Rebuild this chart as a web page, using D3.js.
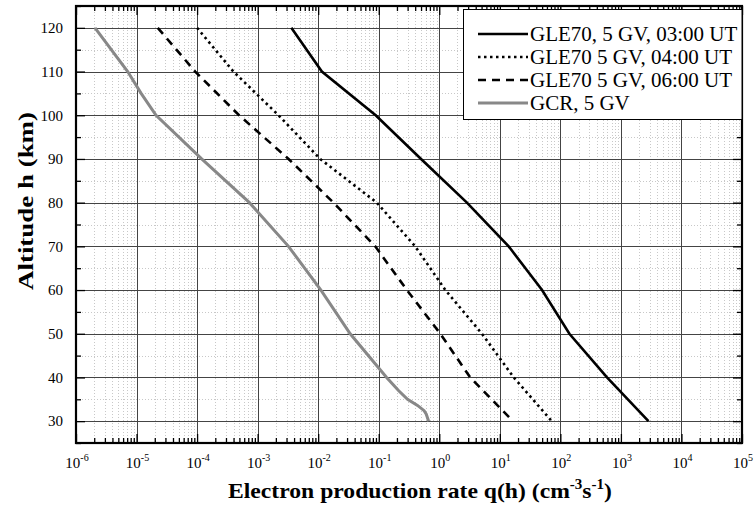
<!DOCTYPE html>
<html>
<head>
<meta charset="utf-8">
<script src="https://cdn.jsdelivr.net/npm/d3@7"></script>
<style>
  body { margin: 0; background: #fff; }
  svg { display: block; }
  text { font-family: "Liberation Serif", "Times New Roman", serif; fill: #000; }
</style>
</head>
<body>
<div id="chart"></div>
<script>
// ==================== donnees ====================//
const altitudes = [120, 110, 100, 90, 80, 70, 60, 50, 40, 30];
const gle0300 = [3.6e-3, 1.15e-2, 8.9e-2, 0.50, 2.86, 14.0, 49.8, 141, 589, 2850];
const gle0400 = [1.0e-4, 3.98e-4, 2.21e-3, 1.08e-2, 9.3e-2, 0.40, 1.26, 5.07, 17.0, 72];
const gle0600 = [2.24e-5, 9.3e-5, 4.94e-4, 3.24e-3, 1.79e-2, 8.75e-2, 0.292, 1.04, 3.25, 16.5];

const gcrAltitudes = [120, 110, 105, 100, 90, 80, 70, 60, 50, 40, 37, 35, 33.6, 32.4, 31.6, 30];
const gcr = [2.06e-6, 7.14e-6, 1.19e-5, 2.10e-5, 1.19e-4, 7.33e-4, 3.23e-3, 1.11e-2, 3.38e-2,
             0.135, 0.212, 0.299, 0.437, 0.562, 0.61, 0.667];

const seriesNames = ["GLE70, 5 GV, 03:00 UT", "GLE70 5 GV, 04:00 UT", "GLE70 5 GV, 06:00 UT", "GCR, 5 GV"];
const xExponents = [-6, -5, -4, -3, -2, -1, 0, 1, 2, 3, 4, 5];
const yTicks = [30, 40, 50, 60, 70, 80, 90, 100, 110, 120];

// ==================== dimensions ====================//
const width = 755;
const height = 506;
const plotLeft = 76, plotRight = 742, plotTop = 6, plotBottom = 443;

const svg = d3.select("#chart")
    .append("svg")
    .attr("width", width)
    .attr("height", height);

const x = d3.scaleLog().domain([1e-6, 1e5]).range([plotLeft, plotRight]);
const y = d3.scaleLinear().domain([25, 125]).range([plotBottom, plotTop]);

// valeurs des graduations mineures
const xMajor = xExponents.map(e => Math.pow(10, e));
const xMinor = [];
xExponents.slice(0, -1).forEach(e => {
    for (let k = 2; k <= 9; k++) xMinor.push(k * Math.pow(10, e));
});
const yMinor = d3.range(25, 126, 5).filter(v => v % 10 !== 0);

// ==================== grille ====================//
const grid = svg.append("g");

grid.selectAll(".vminor")
    .data(xMinor)
    .enter().append("line")
    .attr("x1", d => Math.round(x(d)) + 0.5)
    .attr("x2", d => Math.round(x(d)) + 0.5)
    .attr("y1", plotTop).attr("y2", plotBottom)
    .attr("stroke", "#c8c8c8")
    .attr("stroke-dasharray", "1 2");

grid.selectAll(".hminor")
    .data(yMinor)
    .enter().append("line")
    .attr("y1", d => Math.round(y(d)) + 0.5)
    .attr("y2", d => Math.round(y(d)) + 0.5)
    .attr("x1", plotLeft).attr("x2", plotRight)
    .attr("stroke", "#c8c8c8")
    .attr("stroke-dasharray", "1 2");

grid.selectAll(".vmajor")
    .data(xMajor.slice(1, -1))
    .enter().append("line")
    .attr("x1", d => Math.round(x(d)) + 0.5)
    .attr("x2", d => Math.round(x(d)) + 0.5)
    .attr("y1", plotTop).attr("y2", plotBottom)
    .attr("stroke", "#444")
    .attr("stroke-width", 1);

grid.selectAll(".hmajor")
    .data(yTicks)
    .enter().append("line")
    .attr("y1", d => Math.round(y(d)) + 0.5)
    .attr("y2", d => Math.round(y(d)) + 0.5)
    .attr("x1", plotLeft).attr("x2", plotRight)
    .attr("stroke", "#444")
    .attr("stroke-width", 1);

// ==================== courbes ====================//
const line = d3.line()
    .x(d => x(d[0]))
    .y(d => y(d[1]));

const series = [
    { values: gle0300, alts: altitudes, color: "#000", width: 2.6, dash: null },
    { values: gle0400, alts: altitudes, color: "#000", width: 2.6, dash: "2.5 3.5" },
    { values: gle0600, alts: altitudes, color: "#000", width: 2.6, dash: "8 6" },
    { values: gcr, alts: gcrAltitudes, color: "#888", width: 3, dash: null }
];

series.forEach(s => {
    svg.append("path")
        .datum(s.values.map((v, i) => [v, s.alts[i]]))
        .attr("d", line)
        .attr("fill", "none")
        .attr("stroke", s.color)
        .attr("stroke-width", s.width)
        .attr("stroke-dasharray", s.dash);
});

// ==================== axes (graduations vers l'interieur) ====================//
function noLabel() { return ""; }

svg.append("g").attr("transform", `translate(0,${plotBottom})`)
    .call(d3.axisBottom(x).tickValues(xMajor).tickSizeInner(-9).tickSizeOuter(0).tickFormat(noLabel));
svg.append("g").attr("transform", `translate(0,${plotBottom})`)
    .call(d3.axisBottom(x).tickValues(xMinor).tickSizeInner(-5).tickSizeOuter(0).tickFormat(noLabel));
svg.append("g").attr("transform", `translate(0,${plotTop})`)
    .call(d3.axisTop(x).tickValues(xMajor).tickSizeInner(-9).tickSizeOuter(0).tickFormat(noLabel));
svg.append("g").attr("transform", `translate(0,${plotTop})`)
    .call(d3.axisTop(x).tickValues(xMinor).tickSizeInner(-5).tickSizeOuter(0).tickFormat(noLabel));
svg.append("g").attr("transform", `translate(${plotLeft},0)`)
    .call(d3.axisLeft(y).tickValues(yTicks).tickSizeInner(-9).tickSizeOuter(0).tickFormat(noLabel));
svg.append("g").attr("transform", `translate(${plotLeft},0)`)
    .call(d3.axisLeft(y).tickValues(yMinor).tickSizeInner(-5).tickSizeOuter(0).tickFormat(noLabel));
svg.append("g").attr("transform", `translate(${plotRight},0)`)
    .call(d3.axisRight(y).tickValues(yTicks).tickSizeInner(-9).tickSizeOuter(0).tickFormat(noLabel));
svg.append("g").attr("transform", `translate(${plotRight},0)`)
    .call(d3.axisRight(y).tickValues(yMinor).tickSizeInner(-5).tickSizeOuter(0).tickFormat(noLabel));

svg.selectAll(".domain").remove();
svg.selectAll(".tick line").attr("stroke", "#000").attr("stroke-width", 1.3);

// cadre
svg.append("rect")
    .attr("x", plotLeft).attr("y", plotTop)
    .attr("width", plotRight - plotLeft).attr("height", plotBottom - plotTop)
    .attr("fill", "none")
    .attr("stroke", "#000")
    .attr("stroke-width", 2.2);

// ==================== etiquettes ====================//
svg.selectAll(".ylab")
    .data(yTicks)
    .enter().append("text")
    .attr("x", 63)
    .attr("y", d => y(d))
    .attr("dy", "0.35em")
    .attr("text-anchor", "end")
    .style("font-size", "15px")
    .text(d => d);

xExponents.forEach(e => {
    const t = svg.append("text")
        .attr("x", x(Math.pow(10, e)) + 1)
        .attr("y", 468)
        .attr("text-anchor", "middle")
        .style("font-size", "15px");
    t.append("tspan").text("10");
    t.append("tspan").attr("dy", -7).style("font-size", "10px").text(e);
});

// titre axe Y
svg.append("text")
    .attr("transform", "translate(25,201) rotate(-90)")
    .attr("text-anchor", "middle")
    .attr("dy", "0.35em")
    .attr("textLength", 178)
    .attr("lengthAdjust", "spacingAndGlyphs")
    .style("font-size", "22px")
    .style("font-weight", "bold")
    .text("Altitude h (km)");

// titre axe X
const xt = svg.append("text")
    .attr("x", 228)
    .attr("y", 498)
    .attr("textLength", 384)
    .attr("lengthAdjust", "spacingAndGlyphs")
    .style("font-size", "22px")
    .style("font-weight", "bold");
xt.append("tspan").text("Electron production rate q(h) (cm");
xt.append("tspan").attr("dy", -9).style("font-size", "14px").text("-3");
xt.append("tspan").attr("dy", 9).text("s");
xt.append("tspan").attr("dy", -9).style("font-size", "14px").text("-1");
xt.append("tspan").attr("dy", 9).text(")");

// ==================== legende ====================//
const legend = svg.append("g");
legend.append("rect")
    .attr("x", 463.5).attr("y", 9.5)
    .attr("width", plotRight - 463.5).attr("height", 110)
    .attr("fill", "#fff")
    .attr("stroke", "#000")
    .attr("stroke-width", 1);

series.forEach((s, i) => {
    const ly = 34 + i * 23;
    legend.append("line")
        .attr("x1", 478).attr("x2", 528)
        .attr("y1", ly).attr("y2", ly)
        .attr("stroke", s.color)
        .attr("stroke-width", s.width)
        .attr("stroke-dasharray", s.dash);
    legend.append("text")
        .attr("x", 530)
        .attr("y", ly)
        .attr("dy", "0.35em")
        .style("font-size", "21px")
        .text(seriesNames[i]);
});
</script>
</body>
</html>
